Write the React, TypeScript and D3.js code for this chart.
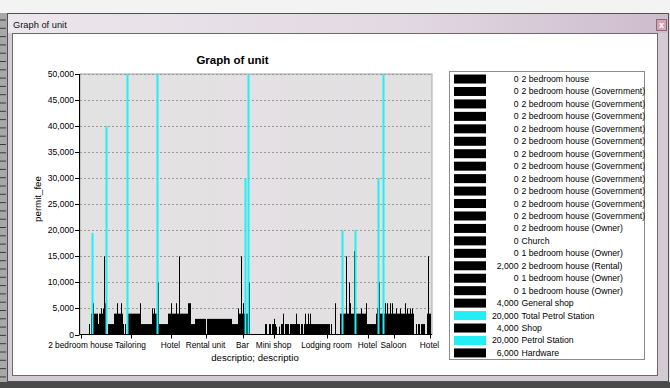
import React from "react";
import * as d3 from "d3";

// ---- data (one bar per record, left to right) ----
const barValues: number[] = [
  0, 0, 0, 0, 0, 0, 0, 0, 0, 2000,
  0, 4000, 19500, 6000, 4000, 4000, 4000, 4000, 2000, 4000,
  4000, 5000, 4000, 5000, 15000, 6000, 40000, 0, 2000, 2000,
  2000, 2000, 2000, 2000, 4000, 4000, 4000, 6000, 4000, 4000,
  4000, 6000, 4000, 2000, 0, 2000, 0, 50000, 4000, 4000,
  4000, 4000, 4000, 4000, 4000, 4000, 4000, 4000, 4000, 4000,
  6000, 2000, 2000, 2000, 2000, 2000, 2000, 2000, 2000, 2000,
  2000, 2000, 5000, 4000, 5000, 4000, 4000, 50000, 10000, 2000,
  2000, 2000, 2000, 2000, 2000, 2000, 2000, 2000, 4000, 4000,
  4000, 6000, 4000, 4000, 4000, 4000, 6000, 4000, 4000, 15000,
  4000, 4000, 4000, 4000, 4000, 4000, 4000, 4000, 6000, 6000,
  6000, 2000, 2000, 2000, 2000, 3000, 3000, 3000, 3000, 3000,
  3000, 3000, 3000, 3000, 3000, 3000, 0, 3000, 3000, 3000,
  3000, 3000, 3000, 3000, 3000, 3000, 3000, 3000, 3000, 3000,
  3000, 3000, 3000, 3000, 3000, 3000, 3000, 3000, 3000, 3000,
  3000, 3000, 2000, 2000, 2000, 2000, 2000, 2000, 5000, 4000,
  4000, 15000, 4000, 6000, 4000, 30000, 4000, 4000, 50000, 10000,
  0, 0, 0, 0, 0, 0, 0, 0, 0, 0,
  0, 0, 0, 0, 0, 2000, 2000, 0, 0, 2000,
  2000, 0, 2000, 2000, 3000, 2000, 1500, 0, 0, 1500,
  0, 2000, 2000, 4000, 0, 2000, 2000, 2000, 2000, 0,
  2000, 2000, 2000, 2000, 2000, 2000, 4000, 2000, 2000, 2000,
  0, 2000, 2000, 0, 2000, 4000, 2000, 2000, 4000, 2000,
  4000, 2000, 2000, 2000, 2000, 2000, 2000, 2000, 2000, 2000,
  2000, 2000, 2000, 2000, 2000, 2000, 2000, 2000, 2000, 2000,
  0, 2000, 0, 0, 0, 6000, 0, 0, 0, 0,
  4000, 4000, 20000, 4000, 4000, 4000, 15000, 4000, 4000, 10000,
  6000, 4000, 4000, 4000, 16000, 20000, 4000, 4000, 4000, 4000,
  4000, 5000, 4000, 4000, 4000, 4000, 6000, 2000, 2000, 2000,
  2000, 2000, 2000, 2000, 2000, 2000, 4000, 5000, 30000, 10000,
  4000, 4000, 4000, 50000, 4000, 6000, 4000, 6000, 4000, 4000,
  6000, 4000, 6000, 4000, 4000, 4000, 5000, 4000, 4000, 4000,
  5000, 4000, 4000, 4000, 4000, 6000, 4000, 5000, 4000, 4000,
  5000, 4000, 5000, 4000, 0, 0, 2000, 0, 2000, 2000,
  0, 2000, 2000, 2000, 2000, 0, 0, 4000, 15000, 4000,
  4000, 0,
];

// bars drawn in the petrol-station colour (record positions)
const petrolBarIndex: number[] = [12, 26, 47, 77, 165, 168, 262, 275, 298, 303];

// x-axis category labels and the record each sits under
const tickLabels: string[] = [
  "2 bedroom house", "Tailoring", "Hotel", "Rental unit", "Bar",
  "Mini shop", "Lodging room", "Hotel", "Saloon", "Hotel",
];
const tickIndex: number[] = [0, 50, 90, 125, 162, 193, 246, 287, 313, 349];

const yTicks: number[] = [0, 5000, 10000, 15000, 20000, 25000, 30000, 35000, 40000, 45000, 50000];

// legend
const legendValues: string[] = [
  "0", "0", "0", "0", "0", "0", "0", "0", "0", "0", "0", "0",
  "0", "0", "0", "2,000", "0", "0", "4,000", "20,000", "4,000", "20,000", "6,000",
];
const legendNames: string[] = [
  "2 bedroom house",
  "2 bedroom house (Government)", "2 bedroom house (Government)", "2 bedroom house (Government)",
  "2 bedroom house (Government)", "2 bedroom house (Government)", "2 bedroom house (Government)",
  "2 bedroom house (Government)", "2 bedroom house (Government)", "2 bedroom house (Government)",
  "2 bedroom house (Government)", "2 bedroom house (Government)",
  "2 bedroom house (Owner)", "Church", "1 bedroom house (Owner)", "2 bedroom house (Rental)",
  "1 bedroom house (Owner)", "1 bedroom house (Owner)", "General shop", "Total Petrol Station",
  "Shop", "Petrol Station", "Hardware",
];
const legendPetrol: boolean[] = legendNames.map((n) => n.includes("Petrol"));

const BLACK = "#000000";
const CYAN = "#22eef4";
const FONT = "'Liberation Sans', Arial, sans-serif";

export default function App() {
  const plot = { left: 80, right: 432, top: 74, bottom: 334.5 };
  const x = d3
    .scaleBand<number>()
    .domain(barValues.map((_, i) => i))
    .range([plot.left, plot.right])
    .padding(0);
  const y = d3.scaleLinear().domain([0, 50000]).range([plot.bottom, plot.top]);
  const bw = x.bandwidth();
  const fmt = d3.format(",");
  const petrolSet = new Set(petrolBarIndex);

  const leg = d3
    .scaleBand<number>()
    .domain(legendNames.map((_, i) => i))
    .range([72.8, 72.8 + legendNames.length * 12.45]);

  return (
    <div style={{ position: "fixed", left: 0, top: 0 }}>
      <svg width={670} height={388} style={{ display: "block" }}>
        <defs>
          <linearGradient id="tb" x1="0" x2="1" y1="0" y2="0">
            <stop offset="0" stopColor="#ece7ec" />
            <stop offset="0.6" stopColor="#e2d8e2" />
            <stop offset="1" stopColor="#cdbccd" />
          </linearGradient>
          <linearGradient id="pbg" x1="0" x2="1" y1="0" y2="0">
            <stop offset="0" stopColor="#e2e2e2" />
            <stop offset="0.5" stopColor="#e4e0e3" />
            <stop offset="1" stopColor="#e1e1e1" />
          </linearGradient>
        </defs>
        {/* screen background & window chrome */}
        <rect x={0} y={0} width={670} height={388} fill="#e9e9e9" />
        <rect x={0} y={0} width={670} height={13} fill="#f3f3f3" />
        <rect x={0} y={13} width={8} height={375} fill="#a8a8a8" />
        {d3.range(20, 380, 8.3).map((v, i) => (
          <line key={i} x1={0} x2={6} y1={v} y2={v} stroke="#3a3a3a" strokeWidth={1} />
        ))}
        <rect x={7.5} y={13.5} width={661} height={368} fill="#d4cad4" stroke="#505050" />
        <rect x={8} y={14} width={660} height={19} fill="url(#tb)" />
        <text x={13} y={27.5} fontFamily={FONT} fontSize={9.3} fill="#111">Graph of unit</text>
        <rect x={656.5} y={19.5} width={10} height={11} fill="#d7a4b3" stroke="#8c6b78" />
        <text x={661.5} y={28} fontFamily={FONT} fontSize={9} fill="#fff" textAnchor="middle" fontWeight="bold">x</text>
        <rect x={12.5} y={33.5} width={645} height={342} fill="#ffffff" stroke="#6b6b6b" />
        <rect x={0} y={382} width={670} height={6} fill="#4a4a4a" />

        {/* chart title */}
        <text x={232.5} y={63.5} fontFamily={FONT} fontSize={11.5} fontWeight="bold" textAnchor="middle" fill="#000">
          Graph of unit
        </text>

        {/* plot area */}
        <rect x={plot.left} y={plot.top} width={plot.right - plot.left} height={plot.bottom - plot.top} fill="url(#pbg)" stroke="#a6a6a6" />
        {yTicks.slice(1).map((t) => (
          <line key={t} x1={plot.left} x2={plot.right} y1={Math.round(y(t)) + 0.5} y2={Math.round(y(t)) + 0.5}
            stroke="#9a9a9a" strokeDasharray="2,2" />
        ))}

        {/* bars */}
        {barValues.map((v, i) =>
          v > 0 && !petrolSet.has(i) ? (
            <rect key={i} x={x(i)} y={y(v)} width={bw} height={plot.bottom - y(v)} fill={BLACK} />
          ) : null
        )}
        {barValues.map((v, i) =>
          v > 0 && petrolSet.has(i) ? (
            <rect key={"c" + i} x={(x(i) as number) - 0.5} y={y(v)} width={bw + 1} height={plot.bottom - y(v)} fill={CYAN} />
          ) : null
        )}

        {/* axes */}
        <line x1={79.5} x2={79.5} y1={plot.top} y2={plot.bottom} stroke="#000" />
        <line x1={79.5} x2={plot.right} y1={plot.bottom} y2={plot.bottom} stroke="#000" />
        {yTicks.map((t) => (
          <g key={t}>
            <line x1={75} x2={79.5} y1={Math.round(y(t)) + 0.5} y2={Math.round(y(t)) + 0.5} stroke="#000" />
            <text x={74} y={y(t) + 3} fontFamily={FONT} fontSize={8.6} textAnchor="end" fill="#000">
              {fmt(t)}
            </text>
          </g>
        ))}
        {tickIndex.map((ci, k) => {
          const cx = Math.round((x(ci) as number) + bw / 2) + 0.5;
          return (
            <g key={k}>
              <line x1={cx} x2={cx} y1={plot.bottom} y2={plot.bottom + 4} stroke="#000" />
              <text x={cx - 1} y={348} fontFamily={FONT} fontSize={8.3} textAnchor="middle" fill="#000">
                {tickLabels[k]}
              </text>
            </g>
          );
        })}
        <text x={255} y={361} fontFamily={FONT} fontSize={9.6} textAnchor="middle" fill="#000">
          descriptio; descriptio
        </text>
        <text transform="translate(40.5,199) rotate(-90)" fontFamily={FONT} fontSize={9.7} textAnchor="middle" fill="#000">
          permit_fee
        </text>

        {/* legend */}
        <rect x={449.5} y={71.5} width={195} height={288} fill="#ffffff" stroke="#8c8c8c" />
        {legendNames.map((n, i) => {
          const cy = (leg(i) as number) + leg.bandwidth() / 2;
          return (
            <g key={i}>
              <rect x={454} y={cy - 4.5} width={32} height={9} fill={legendPetrol[i] ? CYAN : BLACK} />
              <text x={518.5} y={cy + 3} fontFamily={FONT} fontSize={8.7} textAnchor="end" fill="#000">
                {legendValues[i]}
              </text>
              <text x={521.5} y={cy + 3} fontFamily={FONT} fontSize={8.7} fill="#000">
                {n}
              </text>
            </g>
          );
        })}
      </svg>
    </div>
  );
}
